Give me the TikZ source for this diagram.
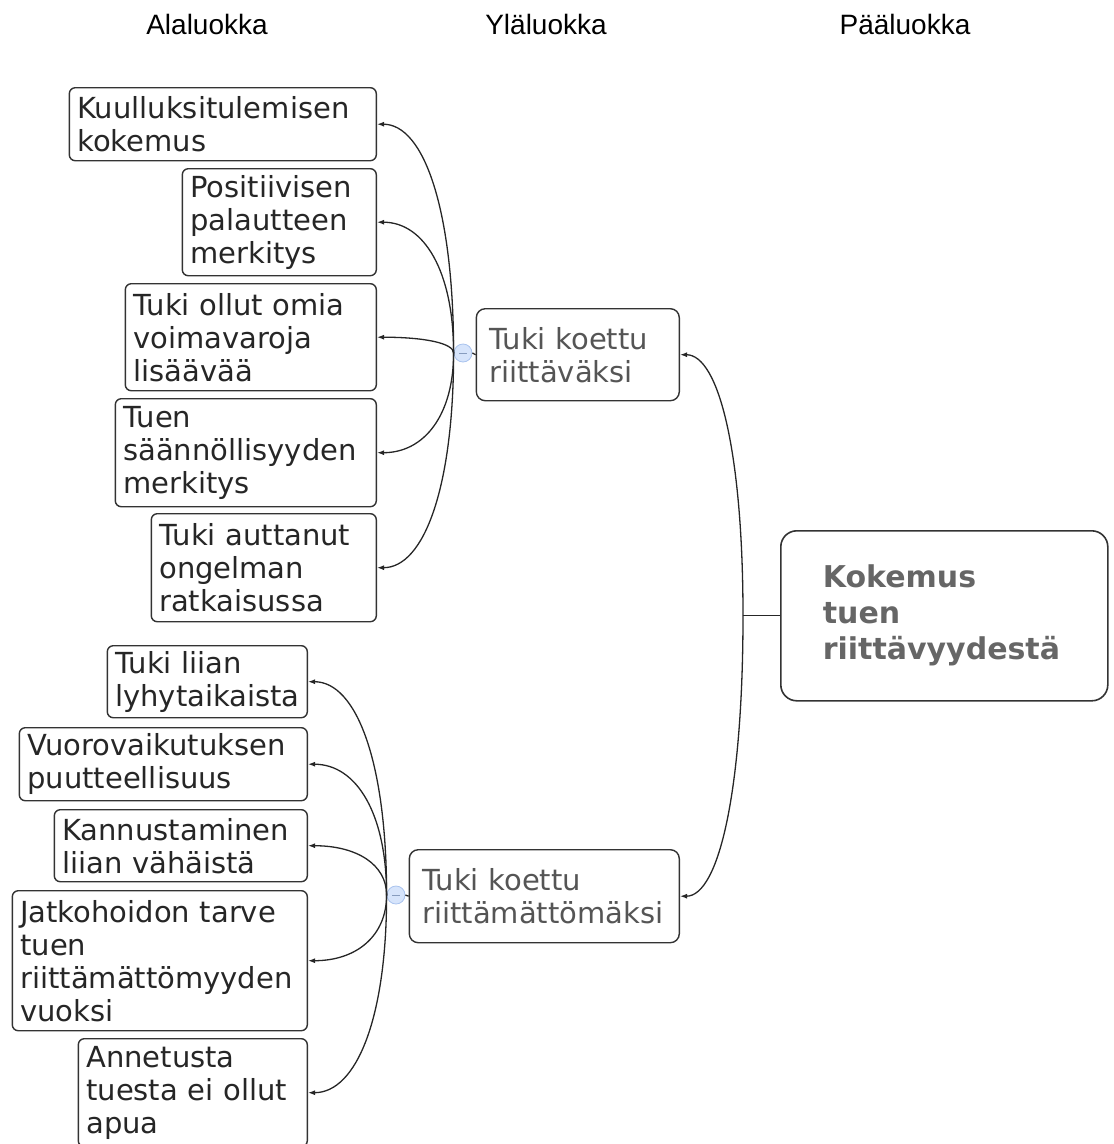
\documentclass[tikz,border=0pt]{standalone}
\usepackage{fontspec}
\setmainfont{DejaVu Sans}
\newfontfamily\headfont{Liberation Sans}
\usetikzlibrary{positioning,arrows.meta,calc}
\hyphenpenalty=10000

\definecolor{boxline}{HTML}{333333}
\definecolor{midtext}{HTML}{555555}
\definecolor{maintext}{HTML}{666666}
\definecolor{knobfill}{HTML}{D6E4FB}
\definecolor{knobline}{HTML}{A9C3EE}

\tikzstyle{head} = [font=\headfont\fontsize{28}{32}\selectfont, anchor=base]
\tikzstyle{sub} = [draw=boxline, line width=1.4pt, rounded corners=6pt, align=left,
    anchor=north east, inner xsep=8pt, inner ysep=0pt, text=black!85,
    font=\fontsize{29}{33}\selectfont]
\tikzstyle{mid} = [sub, rounded corners=9pt, inner xsep=13pt, text=midtext]
\tikzstyle{main} = [draw=boxline, line width=1.6pt, rounded corners=16pt, align=left,
    anchor=north west, inner xsep=42pt, text=maintext,
    font=\bfseries\fontsize{30}{36}\selectfont]
\tikzstyle{knob} = [circle, draw=knobline, fill=knobfill, minimum size=18pt, inner sep=0pt,
    line width=0.8pt, path picture={\draw[knobline!80!black, line width=0.8pt]
    ([xshift=-4pt]path picture bounding box.center) -- ([xshift=4pt]path picture bounding box.center);}]
\tikzstyle{link} = [draw=black!85, line width=1.3pt, -{Latex[length=7pt,width=5pt]}]
\tikzstyle{stem} = [draw=black!85, line width=1.3pt]

% curved branch from a hub to a box
\newcommand{\branch}[2]{\draw[link] (#1) .. controls ($(#1)!0.62!(#1 |- #2)$)
    and ($(#2)!0.62!(#1 |- #2)$) .. (#2);}

\begin{document}
\begin{tikzpicture}[x=1pt,y=-1pt]
    \useasboundingbox (0,0) rectangle (1114,1144);
    % Draw column headings
    \node[head] (ala) at (207,34) {Alaluokka};
    \node[head] (yla) at (546,34) {Yläluokka};
    \node[head] (paa) at (905,34) {Pääluokka};

    % Draw main category
    \node[main, text width=243pt, minimum height=170pt] (main) at (780,530)
        {Kokemus\\tuen\\riittävyydestä};
    \coordinate[left=37pt of main.west] (hub);

    % Draw upper categories
    \node[mid, text width=177pt, minimum height=92pt] (t1) at (680,308)
        {Tuki koettu\\riittäväksi};
    \node[mid, text width=244pt, minimum height=93pt] (t2) at (680,849)
        {Tuki koettu\\riittämättömäksi};
    \node[knob] (c1) at (463,353) {};
    \node[knob] (c2) at (396,895) {};

    % Draw subcategories
    \node[sub, text width=291pt, minimum height=73pt] (k1) at (377,87)
        {Kuulluksitulemisen\\kokemus};
    \node[sub, text width=178pt, minimum height=107pt] (k2) at (377,168)
        {Positiivisen\\palautteen\\merkitys};
    \node[sub, text width=235pt, minimum height=107pt] (k3) at (377,283)
        {Tuki ollut omia\\voimavaroja\\lisäävää};
    \node[sub, text width=245pt, minimum height=108pt] (k4) at (377,398)
        {Tuen\\säännöllisyyden\\merkitys};
    \node[sub, text width=209pt, minimum height=108pt] (k5) at (377,513)
        {Tuki auttanut\\ongelman\\ratkaisussa};
    \node[sub, text width=184pt, minimum height=72pt] (k6) at (308,645)
        {Tuki liian\\lyhytaikaista};
    \node[sub, text width=272pt, minimum height=73pt] (k7) at (308,727)
        {Vuorovaikutuksen\\puutteellisuus};
    \node[sub, text width=237pt, minimum height=72pt] (k8) at (308,809)
        {Kannustaminen\\liian vähäistä};
    \node[sub, text width=279pt, minimum height=140pt] (k9) at (308,890)
        {Jatkohoidon tarve\\tuen\\riittämättömyyden\\vuoksi};
    \node[sub, text width=213pt, minimum height=108pt] (k10) at (308,1038)
        {Annetusta\\tuesta ei ollut\\apua};

    % Draw connectors
    \draw[stem] (main.west) -- (hub);
    \branch{hub}{t1.east}
    \branch{hub}{t2.east}
    \draw[stem] (c1.east) -- (t1.west);
    \draw[stem] (c2.east) -- (t2.west);
    \foreach \k in {k1,k2,k3,k4,k5}
        {\branch{c1.west}{\k.east}}
    \foreach \k in {k6,k7,k8,k9,k10}
        {\branch{c2.west}{\k.east}}
\end{tikzpicture}
\end{document}
